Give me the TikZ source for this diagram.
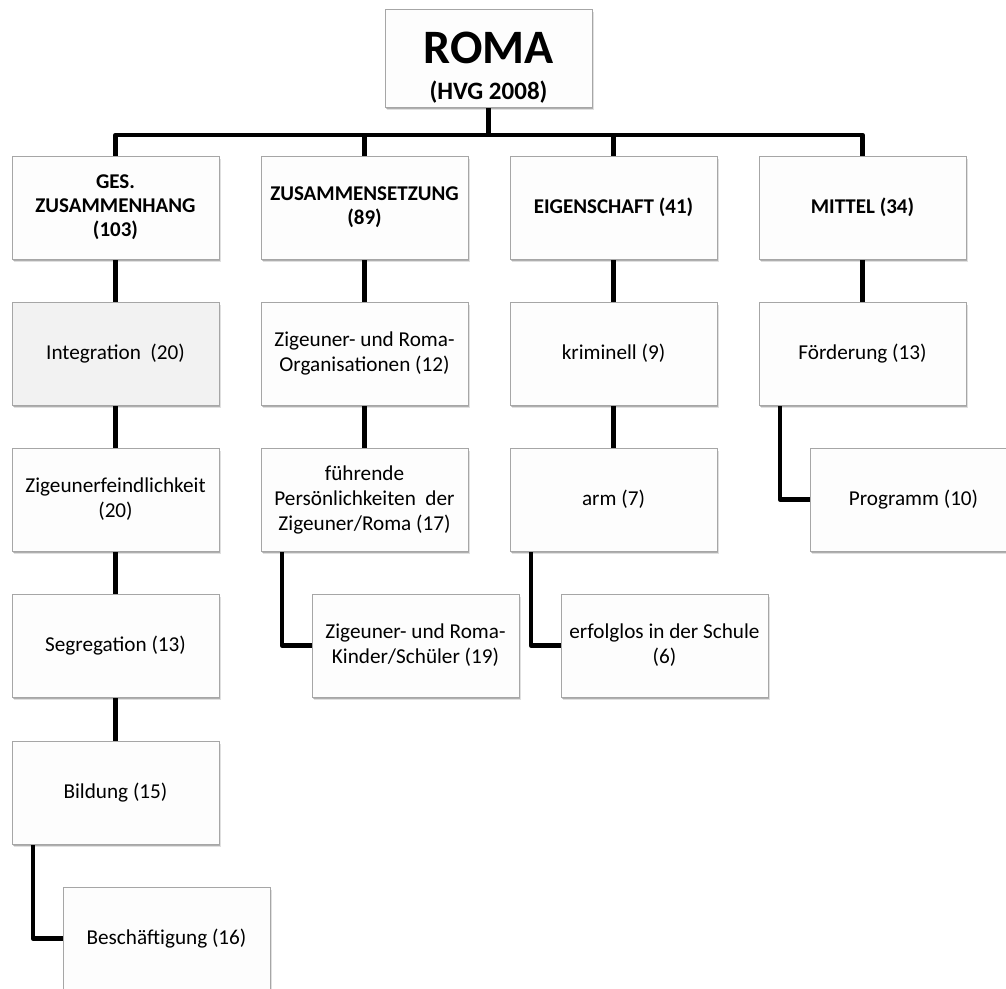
\documentclass[tikz,border=0pt]{standalone}
\usepackage{fontspec}
\setmainfont{Carlito}
\usetikzlibrary{shadows,backgrounds}

\definecolor{boxline}{HTML}{A6A6A6}
\definecolor{boxfill}{HTML}{FDFDFD}
\definecolor{hilite}{HTML}{F2F2F2}

\tikzset{
  card/.style={draw=boxline, line width=0.9pt, fill=boxfill,
    anchor=north west, minimum width=207pt, minimum height=103pt,
    inner sep=2pt, outer sep=0pt, align=center,
    drop shadow={shadow xshift=1pt, shadow yshift=-1.5pt, opacity=.22, fill=black},
    drop shadow={shadow xshift=2pt, shadow yshift=-3pt, opacity=.12, fill=black}},
  headcard/.style={card, font=\bfseries\fontsize{21}{24}\selectfont},
  leafcard/.style={card, font=\fontsize{21.2}{25}\selectfont},
  link/.style={draw=black, line width=4.6pt, line join=round}
}

\begin{document}
\begin{tikzpicture}[x=1pt, y=-1pt]
  \useasboundingbox (0,0) rectangle (1006,988);
  \clip (0,0) rectangle (1006,988);

  % root
  \node[card, minimum height=98pt, font=\bfseries\fontsize{25}{36}\selectfont]
    (roma) at (385,9)
    {\rule{0pt}{50pt}{\fontsize{48}{50}\selectfont ROMA}\\(HVG 2008)};

  % category headers
  \node[headcard] (h1) at (12,156)  {GES.\\ZUSAMMENHANG\\(103)};
  \node[headcard] (h2) at (261,156) {ZUSAMMENSETZUNG\\(89)};
  \node[headcard] (h3) at (510,156) {EIGENSCHAFT (41)};
  \node[headcard] (h4) at (759,156) {MITTEL (34)};

  % column 1
  \node[leafcard, fill=hilite] (a1) at (12,302) {Integration~ (20)};
  \node[leafcard] (a2) at (12,448) {Zigeunerfeindlichkeit\\(20)};
  \node[leafcard] (a3) at (12,594) {Segregation (13)};
  \node[leafcard] (a4) at (12,741) {Bildung (15)};
  \node[leafcard] (a5) at (63,887) {Beschäftigung (16)};

  % column 2
  \node[leafcard] (b1) at (261,302) {Zigeuner- und Roma-\\Organisationen (12)};
  \node[leafcard] (b2) at (261,448) {führende\\Persönlichkeiten~ der\\Zigeuner/Roma (17)};
  \node[leafcard] (b3) at (312,594) {Zigeuner- und Roma-\\Kinder/Schüler (19)};

  % column 3
  \node[leafcard] (c1) at (510,302) {kriminell (9)};
  \node[leafcard] (c2) at (510,448) {arm (7)};
  \node[leafcard] (c3) at (561,594) {erfolglos in der Schule\\(6)};

  % column 4
  \node[leafcard] (d1) at (759,302) {Förderung (13)};
  \node[leafcard] (d2) at (810,448) {Programm (10)};

  % connectors behind the cards
  \begin{scope}[on background layer]
    \coordinate (bus) at (488.5,135);
    \draw[link] (roma.south) -- (bus);
    \draw[link] (h1.north) |- (bus) -| (h4.north);
    \draw[link] (bus -| h2.north) -- (h2.north);
    \draw[link] (bus -| h3.north) -- (h3.north);

    \draw[link] (h1.south) -- (a1.north);
    \draw[link] (a1.south) -- (a2.north);
    \draw[link] (a2.south) -- (a3.north);
    \draw[link] (a3.south) -- (a4.north);
    \draw[link] ([xshift=21pt]a4.south west) |- (a5.west);

    \draw[link] (h2.south) -- (b1.north);
    \draw[link] (b1.south) -- (b2.north);
    \draw[link] ([xshift=21pt]b2.south west) |- (b3.west);

    \draw[link] (h3.south) -- (c1.north);
    \draw[link] (c1.south) -- (c2.north);
    \draw[link] ([xshift=21pt]c2.south west) |- (c3.west);

    \draw[link] (h4.south) -- (d1.north);
    \draw[link] ([xshift=21pt]d1.south west) |- (d2.west);
  \end{scope}
\end{tikzpicture}
\end{document}
